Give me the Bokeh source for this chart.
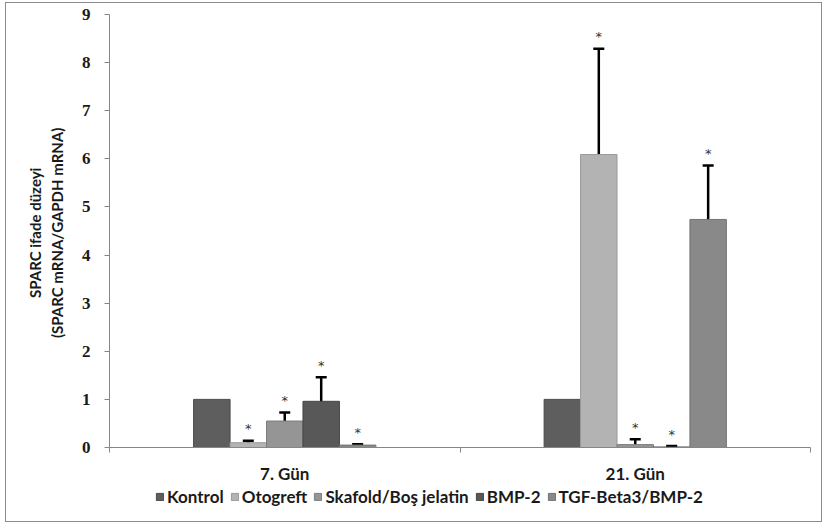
import numpy as np
from bokeh.plotting import figure
from bokeh.layouts import column
from bokeh.models import (Range1d, FixedTicker, Whisker, ColumnDataSource, Legend,
                          LegendItem, TeeHead)
from bokeh.embed import file_html
from bokeh.resources import INLINE
from bokeh.core.properties import value

# ---------------- data ----------------
groups = ["7. Gün", "21. Gün"]
series = ["Kontrol", "Otogreft", "Skafold/Boş jelatin", "BMP-2", "TGF-Beta3/BMP-2"]

kontrol = [1.00, 1.00]
otogreft = [0.10, 6.09]
skafold = [0.55, 0.06]
bmp2 = [0.96, 0.01]
tgf = [0.05, 4.74]

# error bar ends (lower, upper); None = no error bar
kontrol_lo = [None, None]
kontrol_hi = [None, None]
otogreft_lo = [0.03, 3.91]
otogreft_hi = [0.14, 8.29]
skafold_lo = [0.47, 0.02]
skafold_hi = [0.73, 0.17]
bmp2_lo = [0.53, 0.00]
bmp2_hi = [1.46, 0.03]
tgf_lo = [0.02, 3.31]
tgf_hi = [0.07, 5.86]

significance = ["", "*", "*", "*", "*"]

y_ticks = [0, 1, 2, 3, 4, 5, 6, 7, 8, 9]
y_title = "SPARC  ifade düzeyi\n(SPARC  mRNA/GAPDH mRNA)"

values = [kontrol, otogreft, skafold, bmp2, tgf]
lows = [kontrol_lo, otogreft_lo, skafold_lo, bmp2_lo, tgf_lo]
highs = [kontrol_hi, otogreft_hi, skafold_hi, bmp2_hi, tgf_hi]

colors = ["#5e5e5e", "#b3b3b3", "#959595", "#585858", "#898989"]
edge_colors = ["#4a4a4a", "#9a9a9a", "#7d7d7d", "#454545", "#737373"]

FONT = "Lato"
BORDER = "#8c8c8c"

# ---------------- main figure ----------------
p = figure(width=815, height=483, output_backend="svg", toolbar_location=None,
           x_range=Range1d(0, len(groups)), y_range=Range1d(0, 9),
           min_border_left=103, min_border_right=11, min_border_top=11,
           min_border_bottom=39, background_fill_color="white",
           border_fill_color="white")
p.outline_line_color = None
p.grid.visible = False

bw = 0.104
group_centers = np.arange(len(groups)) + 0.5

sources = []
for i, name in enumerate(series):
    xs = group_centers + (i - 2) * bw
    src = ColumnDataSource(dict(x=xs, top=values[i]))
    sources.append(src)
    p.vbar(x="x", top="top", width=bw, source=src, fill_color=colors[i],
           line_color=edge_colors[i], line_width=1)

for i, name in enumerate(series):
    xs = group_centers + (i - 2) * bw
    if lows[i][0] is None:
        continue
    esrc = ColumnDataSource(dict(x=xs, lo=lows[i], hi=highs[i],
                                 star=[significance[i]] * len(groups)))
    w = Whisker(base="x", lower="lo", upper="hi", source=esrc,
                line_color="black", line_width=2.5,
                upper_head=TeeHead(size=11, line_color="black", line_width=2.5),
                lower_head=TeeHead(size=11, line_color="black", line_width=2.5))
    p.add_layout(w)
    p.text(x="x", y="hi", text="star", source=esrc, text_align="center",
           text_baseline="middle", y_offset=-12, text_font_size="13px",
           text_color="#333333", text_font=value("DejaVu Sans"))

# ---------------- axes ----------------
xa = p.xaxis[0]
xa.ticker = FixedTicker(ticks=list(group_centers), minor_ticks=[0, 1, 2])
xa.major_label_overrides = {float(c): g for c, g in zip(group_centers, groups)}
xa.major_tick_out = 0
xa.major_tick_in = 0
xa.minor_tick_out = 5
xa.minor_tick_in = 0
xa.minor_tick_line_color = "#868686"
xa.axis_line_color = "#868686"
xa.major_label_text_font = FONT
xa.major_label_text_font_style = "bold"
xa.major_label_text_font_size = "17px"
xa.major_label_text_color = "#1a1a1a"
xa.major_label_standoff = 10

ya = p.yaxis[0]
ya.ticker = FixedTicker(ticks=y_ticks)
ya.minor_tick_line_color = None
ya.major_tick_out = 5
ya.major_tick_in = 0
ya.major_tick_line_color = "#868686"
ya.axis_line_color = "#868686"
ya.major_label_text_font = "Liberation Serif"
ya.major_label_text_font_style = "bold"
ya.major_label_text_font_size = "17px"
ya.major_label_text_color = "#1a1a1a"
ya.major_label_standoff = 14
ya.axis_label = y_title
ya.axis_label_text_font = FONT
ya.axis_label_text_font_style = "bold"
ya.axis_label_text_font_size = "15px"
ya.axis_label_text_color = "#1a1a1a"
ya.axis_label_text_align = "center"
ya.axis_label_standoff = 13

# ---------------- legend strip ----------------
lf = figure(width=815, height=35, output_backend="svg", toolbar_location=None,
            x_range=Range1d(100, 101), y_range=Range1d(100, 101),
            min_border=0, background_fill_color="white", border_fill_color="white")
lf.outline_line_color = None
lf.axis.visible = False
lf.grid.visible = False

items = []
for i, name in enumerate(series):
    r = lf.vbar(x="x", top="top", width=bw, source=sources[i], fill_color=colors[i],
                line_color=edge_colors[i], line_width=1)
    items.append(LegendItem(label=name, renderers=[r]))

legend = Legend(items=items, orientation="horizontal", location=(46, 14),
                glyph_width=9, glyph_height=9, label_height=17,
                label_standoff=3, spacing=6,
                padding=0, margin=0, border_line_color=None,
                background_fill_alpha=0,
                label_text_font=FONT, label_text_font_style="bold",
                label_text_font_size="17px", label_text_color="#1a1a1a")
lf.add_layout(legend)

layout = column(p, lf, spacing=0, margin=(2, 5, 0, 5),
                styles={"border": "1px solid " + BORDER, "background": "white"})

with open("out.html", "w") as f:
    f.write(file_html(layout, INLINE))
